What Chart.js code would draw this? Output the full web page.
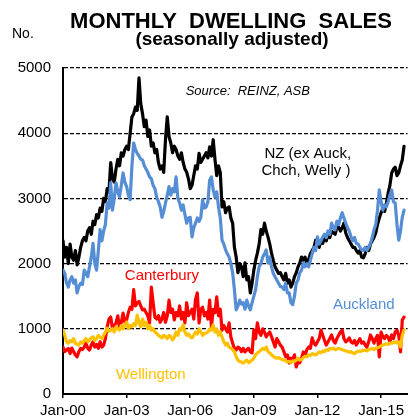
<!DOCTYPE html>
<html>
<head>
<meta charset="utf-8">
<script src="https://cdn.jsdelivr.net/npm/chart.js@4/dist/chart.umd.min.js"></script>
<style>
html,body{margin:0;padding:0;background:#fff;}
#wrap{width:408px;height:419px;position:relative;overflow:hidden;}
canvas{display:block;}
</style>
</head>
<body>
<div id="wrap"><canvas id="c" width="408" height="419"></canvas></div>
<script>
// ---- Data: monthly, Jan 2000 .. Feb 2016 (seasonally adjusted dwelling sales) ----
const tickLabels = ["Jan-00", "Jan-03", "Jan-06", "Jan-09", "Jan-12", "Jan-15"];
const tickMonths = [0, 36, 72, 108, 144, 180];
const yTicks = [0, 1000, 2000, 3000, 4000, 5000];

const nzExMain = [
  2350, 2100, 2250, 2000, 2300, 2100, 2050, 2200, 1980, 2100, 2250, 2350,
  2400, 2350, 2500, 2550, 2450, 2650, 2600, 2750, 2700, 2850, 2800, 3000,
  2950, 3150, 3100, 3550, 3300, 3250, 3450, 3600, 3500, 3700, 3650, 3750,
  3800, 3750, 4000, 4250, 4300, 4400, 4350, 4850, 4450, 4300, 4100, 4200,
  3950, 4050, 3800, 3850, 3700, 3750, 3550, 3450, 3500, 3400, 3900, 4250,
  3950, 3850, 3700, 3800, 3750, 3650, 3600, 3700, 3550, 3450, 3400, 3300,
  3150, 3200, 3350, 3500, 3450, 3690, 3550, 3600, 3650, 3700, 3620, 3790,
  3650, 3900, 3600, 3350, 3500, 3400, 2870, 2950, 2780, 2850, 2870, 2700,
  2620, 2250, 2100, 1860, 2000, 1950, 1800, 2010, 1750, 1800, 1550, 1700,
  1900, 2050, 2160, 2300, 2520, 2450, 2620, 2500, 2410, 2300, 2160, 2050,
  1950, 1900, 1850, 1860, 1800, 1750, 1850, 1700, 1750, 1640, 1700, 1800,
  1860, 1950, 2010, 2100, 2050, 2100, 2000, 2060, 2150, 2200, 2250, 2360,
  2300, 2250, 2350, 2310, 2400, 2350, 2450, 2400, 2500, 2470, 2450, 2560,
  2560, 2500, 2550, 2620, 2470, 2400, 2350, 2300, 2250, 2250, 2200, 2160,
  2200, 2100, 2090, 2150, 2250, 2200, 2300, 2350, 2400, 2470, 2600, 2700,
  2780, 2850, 2800, 2930, 3080, 3200, 3390, 3450, 3480, 3350, 3390, 3500,
  3590, 3800
];

const auckland = [
  1900, 1850, 1700, 1640, 1750, 1800, 1700, 1750, 1550, 1650, 1700, 1680,
  1900, 1850, 1800, 1950, 2100, 2310, 2000, 1900, 2200, 2520, 2350, 2500,
  2600, 2930, 2850, 3240, 2820, 3000, 3240, 3100, 3020, 3200, 3390, 3250,
  3180, 3050, 2980, 3500, 3850, 3750, 3690, 3650, 3600, 3590, 3500, 3450,
  3400, 3330, 3300, 3200, 3150, 3020, 2950, 2870, 2710, 2800, 2930, 3050,
  3180, 3050, 3150, 3100, 3330, 3000, 2930, 2820, 2900, 2750, 2620, 2700,
  2710, 2410, 2550, 2620, 2700, 2650, 2710, 2980, 2850, 2870, 2950, 3280,
  3330, 3130, 3020, 3100, 2870, 2700, 2360, 2300, 2210, 2150, 2100, 2000,
  1860, 1600, 1290, 1350, 1440, 1380, 1400, 1300, 1440, 1350, 1290, 1400,
  1500, 1600, 1800, 1950, 2000, 2100, 2150, 2210, 2010, 2100, 1950, 1850,
  1800, 1750, 1700, 1650, 1640, 1600, 1700, 1550, 1550, 1400, 1370, 1500,
  1700, 1750, 1860, 1900, 2010, 1950, 2000, 1950, 2050, 2150, 2250, 2200,
  2410, 2300, 2350, 2410, 2450, 2400, 2500, 2450, 2620, 2550, 2520, 2650,
  2600, 2700, 2780, 2700, 2620, 2550, 2500, 2410, 2350, 2400, 2310, 2300,
  2250, 2210, 2200, 2250, 2200, 2250, 2310, 2400, 2520, 2600, 2820, 3130,
  2950, 2820, 2900, 2870, 2950, 3050, 3130, 2950, 2930, 2600, 2360, 2500,
  2710, 2820
];

const canterbury = [
  720, 650, 675, 700, 620, 705, 650, 600, 570, 650, 700, 680,
  720, 780, 700, 675, 750, 800, 720, 760, 700, 800, 720, 750,
  850, 1030, 1150, 1180, 1000, 1050, 1090, 1200, 1010, 1100, 1240, 1100,
  1135, 1250, 1330, 1300, 1600, 1350, 1400, 1420, 1350, 1290, 1300, 1250,
  1200, 1090, 1640, 1400, 1180, 1150, 1200, 1100, 1150, 1250, 1100, 1200,
  1440, 1250, 1300, 1135, 1250, 1200, 1350, 1150, 1250, 1090, 1400, 1200,
  1250, 1300, 1150, 1450, 1550, 1090, 1300, 1330, 1200, 1250, 1150, 1440,
  1030, 1300, 1250, 1490, 1200, 1300, 980, 1050, 1000, 950, 1090, 875,
  780, 700, 675, 720, 700, 650, 700, 645, 680, 700, 650, 630,
  980, 850, 1090, 950, 900, 1000, 950, 875, 920, 950, 880, 800,
  720, 850, 800, 750, 720, 650, 570, 600, 475, 550, 520, 600,
  415, 500, 480, 550, 645, 600, 680, 720, 700, 860, 780, 750,
  800, 850, 980, 900, 820, 750, 800, 850, 905, 820, 780, 850,
  900, 950, 980, 850, 800, 820, 860, 800, 780, 820, 750, 800,
  850, 780, 800, 750, 720, 800, 905, 850, 780, 850, 900, 570,
  950, 880, 850, 900, 870, 800, 905, 850, 950, 980, 900, 645,
  1135, 1180
];

const wellington = [
  980, 900, 800, 780, 820, 800, 850, 780, 760, 750, 800, 780,
  820, 850, 800, 830, 860, 875, 820, 850, 900, 870, 850, 900,
  950, 1010, 960, 980, 1000, 950, 1030, 1000, 980, 1050, 1000, 1060,
  1105, 1000, 1050, 1030, 1080, 1050, 1210, 1100, 1030, 1150, 1050, 1100,
  1000, 1050, 980, 1000, 950, 930, 900, 880, 860, 900, 880, 850,
  900, 880, 830, 870, 950, 900, 1000, 980, 1060, 950, 900, 920,
  880, 860, 900, 950, 920, 1000, 950, 900, 930, 935, 950, 1000,
  980, 1060, 950, 1000, 900, 950, 875, 800, 750, 780, 720, 705,
  680, 650, 570, 520, 500, 490, 475, 500, 520, 480, 500, 520,
  550, 600, 630, 650, 675, 700, 680, 720, 650, 630, 600, 580,
  560, 550, 560, 540, 530, 520, 510, 490, 500, 480, 510, 500,
  520, 550, 520, 530, 560, 580, 570, 600, 590, 620, 610, 600,
  620, 645, 630, 660, 650, 680, 670, 700, 690, 705, 680, 690,
  700, 690, 680, 670, 660, 650, 640, 650, 630, 620, 640, 660,
  650, 660, 670, 675, 660, 680, 690, 700, 680, 700, 710, 720,
  740, 750, 760, 770, 760, 780, 780, 790, 800, 780, 800, 720,
  900, 980
];

// ---- Styling / layout (kept separate from data) ----
const FAMILY = '"Liberation Sans", Arial, Helvetica, sans-serif';
const COLORS = { nz: '#000000', akl: '#558ED5', chc: '#FF0000', wlg: '#FFC000' };

const toPoints = arr => arr.map((v, i) => ({ x: i, y: v }));

// annotation texts placed in data coordinates (month index, value)
const notes = [
  { text: 'Source:  REINZ, ASB', x: 104.6, y: 4586, color: '#000', font: 'italic 13px ' + FAMILY },
  { text: 'NZ (ex Auck,', x: 138.5, y: 3620, color: '#000', font: '15px ' + FAMILY },
  { text: 'Chch, Welly )', x: 137.5, y: 3359, color: '#000', font: '15px ' + FAMILY },
  { text: 'Canterbury', x: 56, y: 1748, color: COLORS.chc, font: '15px ' + FAMILY },
  { text: 'Auckland', x: 170.2, y: 1304, color: COLORS.akl, font: '15px ' + FAMILY },
  { text: 'Wellington', x: 49.7, y: 230, color: COLORS.wlg, font: '15px ' + FAMILY }
];

const textPlugin = {
  id: 'texts',
  afterDraw(chart) {
    const ctx = chart.ctx;
    const xs = chart.scales.x, ys = chart.scales.y;
    ctx.save();
    ctx.textBaseline = 'alphabetic';
    ctx.fillStyle = '#000';
    ctx.textAlign = 'center';
    ctx.font = 'bold 22px ' + FAMILY;
    ctx.fillText('MONTHLY  DWELLING  SALES', 231, 28);
    ctx.font = 'bold 19px ' + FAMILY;
    ctx.fillText('(seasonally adjusted)', 232, 45);
    ctx.textAlign = 'left';
    ctx.font = '14px ' + FAMILY;
    ctx.fillText('No.', 12, 38);
    ctx.textAlign = 'center';
    notes.forEach(n => {
      ctx.font = n.font;
      ctx.fillStyle = n.color;
      ctx.fillText(n.text, xs.getPixelForValue(n.x), ys.getPixelForValue(n.y));
    });
    ctx.restore();
  }
};

const lineStyle = color => ({
  borderColor: color, backgroundColor: color, borderWidth: 3.2,
  pointRadius: 0, tension: 0, fill: false, borderJoinStyle: 'round', borderCapStyle: 'round'
});

new Chart(document.getElementById('c'), {
  type: 'line',
  data: {
    datasets: [
      Object.assign({ label: 'Wellington', data: toPoints(wellington) }, lineStyle(COLORS.wlg)),
      Object.assign({ label: 'Canterbury', data: toPoints(canterbury) }, lineStyle(COLORS.chc)),
      Object.assign({ label: 'Auckland', data: toPoints(auckland) }, lineStyle(COLORS.akl)),
      Object.assign({ label: 'NZ (ex Auck, Chch, Welly)', data: toPoints(nzExMain) }, lineStyle(COLORS.nz))
    ]
  },
  options: {
    responsive: false,
    animation: false,
    devicePixelRatio: 1,
    layout: { padding: { top: 68, left: 0, right: 0, bottom: 0 } },
    plugins: { legend: { display: false }, tooltip: { enabled: false }, title: { display: false } },
    scales: {
      x: {
        type: 'linear', min: 0, max: 195,
        afterBuildTicks: s => { s.ticks = tickMonths.map(v => ({ value: v })); },
        afterFit: s => { s.height = 25; },
        ticks: {
          autoSkip: false, maxRotation: 0, minRotation: 0, color: '#000',
          font: { family: FAMILY, size: 15 }, padding: 4,
          callback: v => { const k = tickMonths.indexOf(v); return k >= 0 ? tickLabels[k] : ''; }
        },
        grid: { drawOnChartArea: false, drawTicks: true, tickLength: 4, color: '#000', lineWidth: 1.5 },
        border: { display: true, color: '#000', width: 2 }
      },
      y: {
        min: 0, max: 5000,
        afterBuildTicks: s => { s.ticks = yTicks.map(v => ({ value: v })); },
        afterFit: s => { s.width = 63; },
        ticks: { color: '#000', font: { family: FAMILY, size: 15 }, padding: 12, callback: v => String(v) },
        grid: { color: '#000', lineWidth: 1.3, drawTicks: false },
        border: { display: true, color: '#000', width: 2, dash: [4, 2] }
      }
    }
  },
  plugins: [textPlugin]
});
</script>
</body>
</html>
